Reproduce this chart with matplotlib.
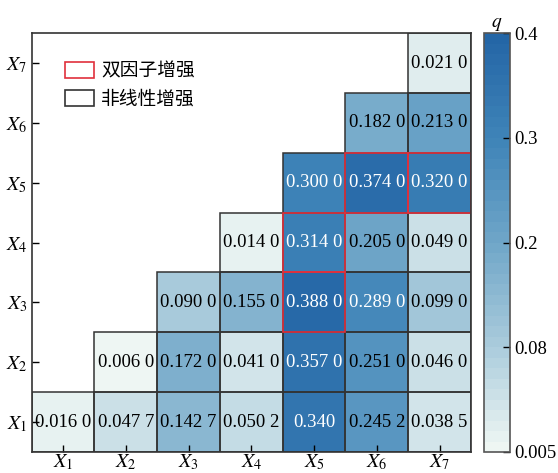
import numpy as np
import matplotlib
matplotlib.use("Agg")
import matplotlib.pyplot as plt
from matplotlib.colors import LinearSegmentedColormap, FuncNorm
from matplotlib.patches import Rectangle, Patch

plt.rcParams['font.family'] = ['Liberation Serif', 'Noto Sans CJK SC']
plt.rcParams['mathtext.fontset'] = 'stix'

# factor names, bottom row first
factors = ['X_1', 'X_2', 'X_3', 'X_4', 'X_5', 'X_6', 'X_7']

# q values of interaction, one list per row (row i holds columns i..7)
q_x1 = [0.0160, 0.0477, 0.1427, 0.0502, 0.340, 0.2452, 0.0385]
q_x2 = [0.0060, 0.1720, 0.0410, 0.3570, 0.2510, 0.0460]
q_x3 = [0.0900, 0.1550, 0.3880, 0.2890, 0.0990]
q_x4 = [0.0140, 0.3140, 0.2050, 0.0490]
q_x5 = [0.3000, 0.3740, 0.3200]
q_x6 = [0.1820, 0.2130]
q_x7 = [0.0210]
rows = [q_x1, q_x2, q_x3, q_x4, q_x5, q_x6, q_x7]

# cells printed with fewer digits
short_labels = {(0, 4): '0.340'}

# bi-factor enhancement cells (row, col)
bi_enhance = [(2, 4), (3, 4), (4, 5), (4, 6)]

cbar_ticks = [0.005, 0.08, 0.2, 0.3, 0.4]
legend_labels = ['双因子增强', '非线性增强']

n = len(factors)
grid = np.full((n, n), np.nan)
for i, r in enumerate(rows):
    grid[i, i:] = r
grid = np.ma.masked_invalid(grid)

pos = np.linspace(0, 1, len(cbar_ticks))
norm = FuncNorm((lambda v: np.interp(v, cbar_ticks, pos),
                 lambda p: np.interp(p, pos, cbar_ticks)),
                vmin=cbar_ticks[0], vmax=cbar_ticks[-1])
cmap = LinearSegmentedColormap.from_list(
    'q', [(0, '#eef6f3'), (0.25, '#a9cbdc'), (0.5, '#6fa6c8'),
          (0.75, '#3f84b8'), (1, '#2466a6')], N=40)

fig = plt.figure(figsize=(5.58, 4.73), dpi=100)
ax = fig.add_axes([0.0568, 0.0444, 0.7872, 0.8856])
cax = fig.add_axes([0.867, 0.0444, 0.0466, 0.8856])

x = np.arange(n + 1) - 0.5
mesh = ax.pcolormesh(x, x, grid, cmap=cmap, norm=norm)

def fmt(v):
    s = f"{v:.4f}"
    return s[:5] + ' ' + s[5:]

for i, r in enumerate(rows):
    for k, v in enumerate(r):
        j = i + k
        txt = short_labels.get((i, j), fmt(v))
        ax.text(j, i, txt, ha='center', va='center', fontsize=13.5,
                color='white' if v >= 0.28 else 'black')
        if (i, j) not in bi_enhance:
            ax.add_patch(Rectangle((j - 0.5, i - 0.5), 1, 1, fill=False,
                                   edgecolor='#333333', lw=1.1, zorder=3))
for i, j in bi_enhance:
    ax.add_patch(Rectangle((j - 0.5, i - 0.5), 1, 1, fill=False,
                           edgecolor='#e0303c', lw=1.2, zorder=4))

ax.set_xlim(-0.5, n - 0.5)
ax.set_ylim(-0.5, n - 0.5)
ax.set_xticks(range(n))
ax.set_yticks(range(n))
ax.set_xticklabels([f'${f}$' for f in factors], fontsize=14.5)
ax.set_yticklabels([f'${f}$' for f in factors], fontsize=14.5)
ax.tick_params(direction='in', length=5, width=1)
ax.tick_params(axis='x', pad=0.5)
ax.tick_params(axis='y', pad=3)
for sp in ax.spines.values():
    sp.set_color('#333333')
    sp.set_linewidth(1.2)
    sp.set_zorder(5)

handles = [Patch(facecolor='white', edgecolor='#e0303c', lw=1.2),
           Patch(facecolor='white', edgecolor='#333333', lw=1.2)]
ax.legend(handles, legend_labels, loc='upper left', bbox_to_anchor=(0.075, 0.935),
          frameon=False, borderaxespad=0, borderpad=0, handlelength=1.55,
          handleheight=0.95, handletextpad=0.4, labelspacing=0.4,
          prop={'family': 'Noto Sans CJK SC', 'size': 13.5})

cb = fig.colorbar(mesh, cax=cax)
cb.set_ticks(cbar_ticks)
cb.set_ticklabels(['0.005', '0.08', '0.2', '0.3', '0.4'])
cb.ax.tick_params(direction='in', length=5, width=1, labelsize=13.5, pad=3)
cb.ax.minorticks_off()
cb.outline.set_edgecolor('#555555')
cb.outline.set_linewidth(1.2)
cax.set_title('$q$', fontsize=14, pad=4)

fig.savefig('out.png', dpi=100)
